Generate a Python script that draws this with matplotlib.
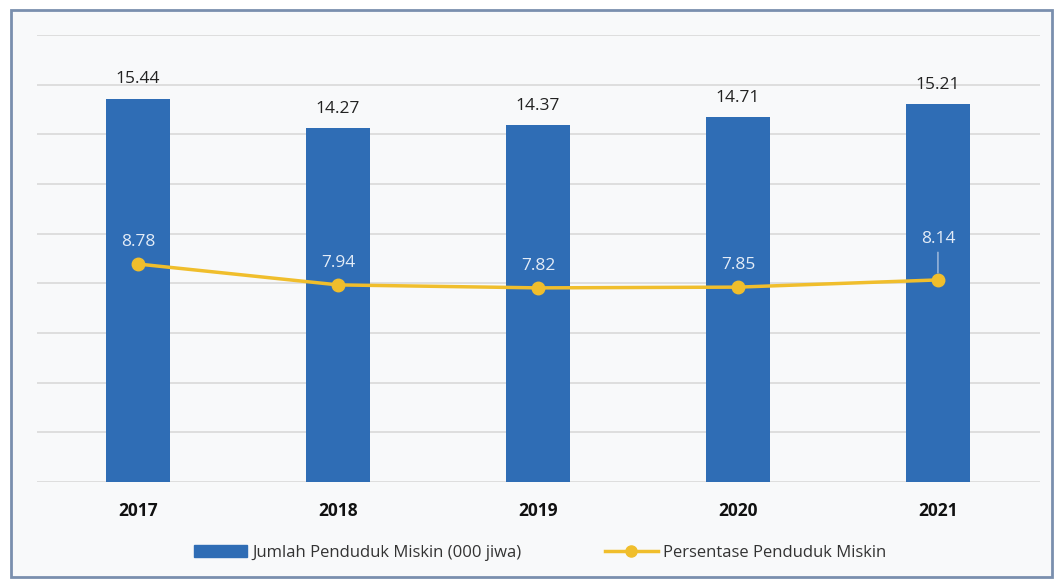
#!/usr/bin/env python3
# plot.py - jumlah dan persentase penduduk miskin 2017-2021

import matplotlib.pyplot as plt
from matplotlib.patches import Rectangle
from matplotlib.lines import Line2D

tahun = ['2017', '2018', '2019', '2020', '2021']
jumlah_miskin = [15.44, 14.27, 14.37, 14.71, 15.21]      # 000 jiwa
persen_miskin = [8.78, 7.94, 7.82, 7.85, 8.14]           # persen

label_bar = 'Jumlah Penduduk Miskin (000 jiwa)'
label_line = 'Persentase Penduduk Miskin'

warna_bar = '#2F6DB5'
warna_line = '#F0BE2C'

plt.rcParams['font.family'] = ['Open Sans', 'DejaVu Sans']

fig = plt.figure(figsize=(10.59, 5.83), dpi=100)
fig.patch.set_facecolor('white')

# bingkai luar
bingkai = Rectangle((0.010, 0.010), 0.983, 0.972, transform=fig.transFigure,
                    facecolor='#F8F9FA', edgecolor='#7A8FAE', linewidth=2.0,
                    zorder=-10)
fig.add_artist(bingkai)

ax = fig.add_axes([0.035, 0.173, 0.947, 0.767])
ax.set_facecolor('none')

x = list(range(len(tahun)))
ax.bar(x, jumlah_miskin, width=0.32, color=warna_bar, zorder=2, label=label_bar)
ax.plot(x, persen_miskin, color=warna_line, linewidth=2.5, marker='o', markersize=9,
        zorder=3, label=label_line)

for xi, v in zip(x, jumlah_miskin):
    ax.annotate(f'{v:.2f}', xy=(xi, v), xytext=(0, 8), textcoords='offset points',
                ha='center', va='bottom', fontsize=12.5, color='#222222')

# label persentase; yang terakhir digeser ke atas dengan garis penunjuk
for i, (xi, v) in enumerate(zip(x, persen_miskin)):
    if i == len(x) - 1:
        ax.annotate(f'{v:.2f}', xy=(xi, v), xytext=(0, 24), textcoords='offset points',
                    ha='center', va='bottom', fontsize=12.5, color='#E3ECF7', zorder=4,
                    arrowprops=dict(arrowstyle='-', color='#C9D6EA', linewidth=0.8,
                                    shrinkA=2, shrinkB=5))
    else:
        ax.annotate(f'{v:.2f}', xy=(xi, v), xytext=(0, 10), textcoords='offset points',
                    ha='center', va='bottom', fontsize=12.5, color='#E3ECF7', zorder=4)

ax.set_ylim(0, 18)
ax.set_xlim(-0.505, 4.51)
ax.set_yticks(range(0, 19, 2))
ax.set_yticklabels([])
ax.grid(axis='y', color='#D9D9D9', linewidth=1.2, zorder=0)
ax.set_axisbelow(True)
ax.set_xticks(x)
ax.set_xticklabels(tahun, fontsize=12.5, fontweight='bold', color='#111111')
ax.tick_params(axis='both', length=0, pad=14)
for s in ax.spines.values():
    s.set_visible(False)

handles = [Rectangle((0, 0), 1, 1, color=warna_bar),
           Line2D([0], [0], color=warna_line, linewidth=2.5, marker='o', markersize=8)]
fig.legend(handles, [label_bar, label_line], loc='center', bbox_to_anchor=(0.51, 0.052),
           ncol=2, frameon=False, fontsize=12, handlelength=3.2, handletextpad=0.3,
           columnspacing=5.0, labelcolor='#333333')

fig.savefig('out.png', dpi=100)
